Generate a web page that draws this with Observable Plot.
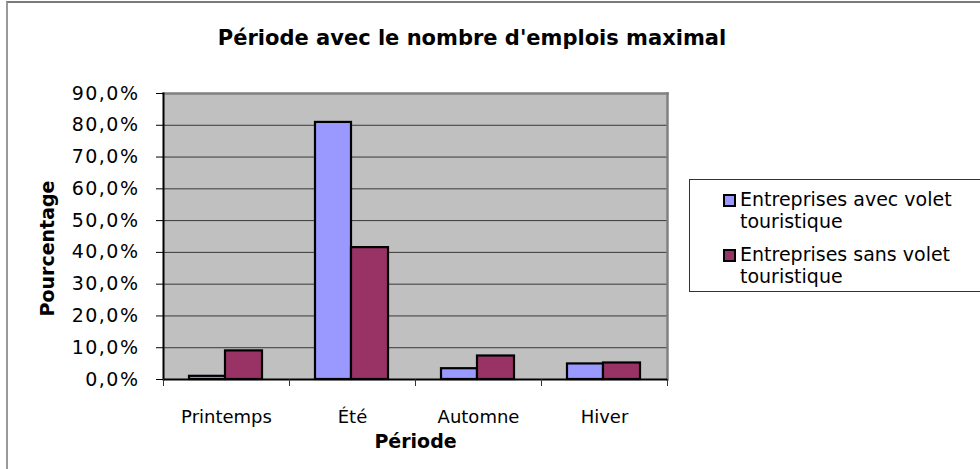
<!DOCTYPE html>
<html>
<head>
<meta charset="utf-8">
<script src="https://cdn.jsdelivr.net/npm/d3@7"></script>
<script src="https://cdn.jsdelivr.net/npm/@observablehq/plot@0.6"></script>
<style>
  html, body { margin: 0; padding: 0; background: #fff; }
  #wrap { position: relative; width: 980px; height: 469px; overflow: hidden; font-family: "DejaVu Sans", Verdana, sans-serif; }
  #outer { position: absolute; left: 6px; top: 1px; width: 1000px; height: 500px; border-top: 2px solid #7a7a7a; border-left: 2px solid #9a9a9a; }
  #title { position: absolute; left: 0; top: 26px; width: 944px; text-align: center; font-weight: bold; font-size: 21px; line-height: 24px; color: #000; }
  #chart { position: absolute; left: 0; top: 0; }
  #legend { position: absolute; left: 689px; top: 179px; width: 320px; height: 113px; border: 1px solid #333; box-sizing: border-box; padding-top: 8px; }
  .item { position: relative; padding-left: 50px; width: 225px; font-size: 19px; line-height: 22px; color: #000; margin-bottom: 11px; }
  .sw { position: absolute; left: 33px; top: 6px; width: 13px; height: 13px; border: 2px solid #000; box-sizing: border-box; }
  g[aria-label="y-axis tick label"] text { letter-spacing: 1.5px; }
</style>
</head>
<body>
<div id="wrap">
  <div id="outer"></div>
  <div id="chart"></div>
  <div id="title"></div>
  <div id="legend"></div>
</div>
<script>
const chartTitle = "Période avec le nombre d'emplois maximal";
const xTitle = "Période";
const yTitle = "Pourcentage";
const categories = ["Printemps", "Été", "Automne", "Hiver"];
const seriesNames = ["Entreprises avec volet touristique", "Entreprises sans volet touristique"];
const avecValues = [1.0, 80.9, 3.4, 4.9];
const sansValues = [9.0, 41.5, 7.4, 5.2];
const yTicks = [0, 10, 20, 30, 40, 50, 60, 70, 80, 90];
const seriesColors = ["#9999ff", "#993366"];

const data = categories.flatMap((c, i) => [
  {period: c, series: seriesNames[0], value: avecValues[i]},
  {period: c, series: seriesNames[1], value: sansValues[i]}
]);

const fmt = d => d.toFixed(1).replace(".", ",") + "%";

const chart = Plot.plot({
  width: 980,
  height: 469,
  marginLeft: 163,
  marginRight: 313,
  marginTop: 93,
  marginBottom: 90,
  style: {fontFamily: "DejaVu Sans, Verdana, sans-serif", fontSize: "18px", color: "#000", background: "transparent", overflow: "visible"},
  x: {domain: categories, padding: 0, label: null, axis: null},
  y: {domain: [0, 90], ticks: yTicks, label: null, axis: null},
  color: {domain: seriesNames, range: seriesColors},
  marks: [
    Plot.frame({fill: "#c0c0c0"}),
    Plot.gridY(yTicks, {stroke: "#383838", strokeOpacity: 1, strokeWidth: 1}),
    Plot.frame({anchor: "top", stroke: "#808080", strokeWidth: 2.5}),
    Plot.frame({anchor: "right", stroke: "#808080", strokeWidth: 2.5}),
    Plot.barY(data.filter(d => d.series === seriesNames[0]), {x: "period", y: "value", fill: "series", stroke: "#000", strokeWidth: 2.2, insetLeft: 26, insetRight: 64}),
    Plot.barY(data.filter(d => d.series === seriesNames[1]), {x: "period", y: "value", fill: "series", stroke: "#000", strokeWidth: 2.2, insetLeft: 62, insetRight: 27}),
    Plot.frame({anchor: "left", stroke: "#000", strokeWidth: 2}),
    Plot.ruleY([0], {stroke: "#000", strokeWidth: 2}),
    Plot.axisY({ticks: yTicks, tickSize: 7, tickPadding: 17, tickFormat: fmt, fontSize: 19, label: null, stroke: "#000"}),
    Plot.axisX({tickSize: 0, tickPadding: 31, fontSize: 18, label: null}),
    Plot.axisX({tickSize: 7, tickFormat: () => "", dx: -63, label: null, stroke: "#333"}),
    Plot.axisX({tickSize: 7, tickFormat: () => "", dx: 63, label: null, stroke: "#333"}),
    Plot.text([xTitle], {frameAnchor: "bottom", dy: 68, fontWeight: "bold", fontSize: 19, fill: "#000"}),
    Plot.text([yTitle], {frameAnchor: "left", textAnchor: "middle", dx: -116, dy: 12, rotate: -90, fontWeight: "bold", fontSize: 19, fill: "#000"})
  ]
});
document.getElementById("chart").appendChild(chart);
document.getElementById("title").textContent = chartTitle;

const legend = document.getElementById("legend");
seriesNames.forEach((name, i) => {
  const item = document.createElement("div");
  item.className = "item";
  const sw = document.createElement("span");
  sw.className = "sw";
  sw.style.background = seriesColors[i];
  item.appendChild(sw);
  item.appendChild(document.createTextNode(name));
  legend.appendChild(item);
});
</script>
</body>
</html>
